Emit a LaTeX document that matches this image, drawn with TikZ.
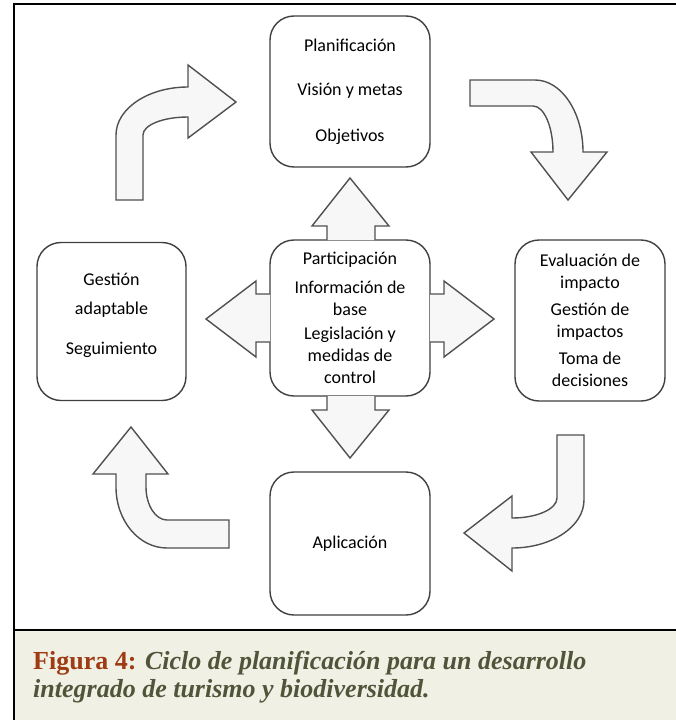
\documentclass[tikz,border=0pt]{standalone}
\usepackage{fontspec}
\setmainfont{Liberation Serif}
\newfontfamily\boxfont{Carlito}
\definecolor{boxgray}{HTML}{404040}
\definecolor{arrgray}{HTML}{505050}
\definecolor{arrfill}{HTML}{F7F7F7}
\definecolor{capfill}{HTML}{F0F0E4}
\definecolor{figred}{HTML}{9E3B12}
\definecolor{capgreen}{HTML}{50553A}
\tikzset{
  box/.style={draw=boxgray, line width=1.4pt, rounded corners=24pt, fill=white,
    align=center, inner sep=0pt, font=\boxfont\fontsize{18}{22}\selectfont},
  blockarrow/.style={draw=arrgray, line width=1.4pt, fill=arrfill, line join=miter},
  frameline/.style={draw=black, line width=2.6pt},
  captext/.style={anchor=base west, align=left, inner sep=0pt,
    font=\bfseries\fontsize{26}{28}\selectfont}
}
\begin{document}
\begin{tikzpicture}[x=1pt,y=-1pt]
\useasboundingbox (0,0) rectangle (676,720);
\fill[white] (0,0) rectangle (676,720);
% caption band
\fill[capfill] (14,630) rectangle (676,720);
\draw[frameline] (676,630) -- (14,630);
\draw[frameline] (14,720) -- (14,4) -- (676,4);

% boxes
\node[box, minimum width=160pt, minimum height=151pt] (P) at (350,91.5)
  {Planificación\\[22pt]Visión y metas\\[24pt]Objetivos};
\node[box, minimum width=160pt, minimum height=156pt] (C) at (350,318)
  {Participación\\[7pt]Información de\\base\\[2pt]Legislación y\\medidas de\\control};
\node[box, minimum width=149pt, minimum height=158pt] (L) at (111.5,321.5)
  {Gestión\\[7pt]adaptable\\[18pt]Seguimiento\\[-14pt]\strut};
\node[box, minimum width=150pt, minimum height=161pt] (R) at (590,320.5)
  {Evaluación de\\impacto\\[5pt]Gestión de\\impactos\\[5pt]Toma de\\decisiones};
\node[box, minimum width=160pt, minimum height=143pt] (A) at (350,543.5)
  {Aplicación};

% straight block arrows from the centre box
\draw[blockarrow] (327,240) -- (327,226) -- (312,226) -- (350,178) -- (389,226)
  -- (375,226) -- (375,240);
\draw[blockarrow] (327,396) -- (327,410) -- (312,410) -- (350,458) -- (389,410)
  -- (375,410) -- (375,396);
\draw[blockarrow] (270,294) -- (256,294) -- (256,281) -- (206,319) -- (256,357)
  -- (256,342) -- (270,342);
\draw[blockarrow] (430,294) -- (444,294) -- (444,281) -- (494,319) -- (444,357)
  -- (444,342) -- (430,342);

% curved block arrows
% top-left: up then right
\draw[blockarrow] (116,200) -- (116,135)
  .. controls (116,108.5) and (148.3,87) .. (188,87)
  -- (188,65) -- (236,102) -- (188,138) -- (188,117)
  .. controls (163,117) and (143,125) .. (143,135)
  -- (143,200) -- cycle;
% top-right: right then down
\draw[blockarrow] (470,80) -- (535,80)
  .. controls (561.5,80) and (583,112.3) .. (583,152)
  -- (607,152) -- (568,200) -- (531,152) -- (553,152)
  .. controls (553,126.6) and (544,106) .. (533,106)
  -- (470,106) -- cycle;
% bottom-right: down then left
\draw[blockarrow] (557,435) -- (557,498)
  .. controls (557,509) and (537,518) .. (512,518)
  -- (512,496) -- (464,533) -- (512,571) -- (512,548)
  .. controls (551.7,548) and (584,526.5) .. (584,500)
  -- (584,435) -- cycle;
% bottom-left: left then up
\draw[blockarrow] (229,520) -- (167,520)
  .. controls (155.4,520) and (146,505) .. (146,487)
  -- (146,474) -- (168,474) -- (131,427) -- (93,474) -- (116,474) -- (116,487)
  .. controls (116,520.7) and (138.8,548) .. (167,548)
  -- (229,548) -- cycle;

% caption
\node[captext] (cap) at (33,697)
  {\textcolor{figred}{Figura 4:} \textcolor{capgreen}{\itshape Ciclo de planificación para un desarrollo}\\
   \textcolor{capgreen}{\itshape integrado de turismo y biodiversidad.}};
\end{tikzpicture}
\end{document}
